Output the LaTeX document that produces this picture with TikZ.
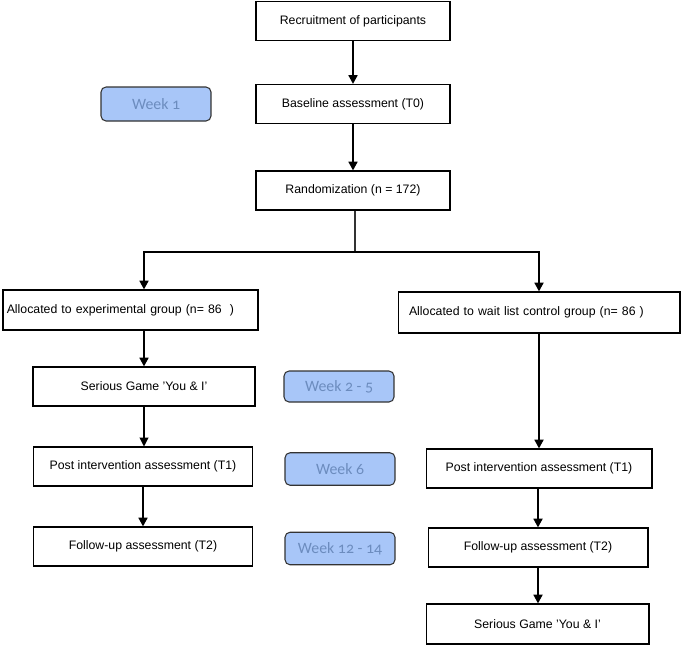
\documentclass[tikz,border=0pt]{standalone}
\usepackage{fontspec}
\setmainfont{Liberation Sans}
\newfontfamily\weekfont[Numbers=OldStyle]{Carlito}
\usetikzlibrary{arrows.meta,positioning}
\definecolor{weekfill}{RGB}{168,198,248}
\definecolor{weektext}{RGB}{108,140,190}
\tikzstyle{boxNode} = [rectangle, draw=black, line width=0.6pt, inner sep=2pt, minimum height=0.78cm, text centered, font=\fontsize{7}{8.5}\selectfont]
\tikzstyle{boxNodeL} = [boxNode, text width=4.9cm, align=left]
\tikzstyle{weekNode} = [rectangle, rounded corners=0.1cm, draw=black!80, line width=0.6pt, fill=weekfill, text=weektext, minimum width=2.2cm, minimum height=0.65cm, font=\weekfont\fontsize{9}{10}\selectfont]
\tikzstyle{arrowT} = [line width=1.3pt,-{Triangle[width=5pt,length=5pt]}]
\tikzstyle{arrowN} = [line width=0.6pt,-{Triangle[width=5pt,length=5pt]}]

\begin{document}
\begin{tikzpicture}[x=0.02cm,y=-0.02cm]
        \useasboundingbox[fill=white] (0,0) rectangle (685,646);
        % main line
        \node (recruit) [boxNode, minimum width=3.88cm] at (353,21) {Recruitment of participants};
        \node (baseline) [boxNode, minimum width=3.88cm] at (353,104) {Baseline assessment (T0)};
        \node (random) [boxNode, minimum width=3.88cm] at (353,190.5) {Randomization (n = 172)};
        \coordinate (split) at (355,252);
        % groups
        \node (allocE) [boxNodeL, minimum width=5.10cm, minimum height=0.80cm, text width=4.95cm] at (130.5,310) {Allocated to experimental group (n= 86 \ )};
        \node (allocC) [boxNodeL, minimum width=5.64cm, minimum height=0.82cm, text width=5.2cm] at (539,312.5) {Allocated to wait list control group (n= 86 )};
        % experimental group
        \node (gameL) [boxNode, minimum width=4.44cm] at (144,386.5) {Serious Game 'You \& I'};
        \node (postL) [boxNode, minimum width=4.38cm] at (143,466.5) {Post intervention assessment (T1)};
        \node (followL) [boxNode, minimum width=4.38cm] at (143,546.5) {Follow-up assessment (T2)};
        % control group
        \node (postR) [boxNode, minimum width=4.52cm] at (539,468.5) {Post intervention assessment (T1)};
        \node (followR) [boxNode, minimum width=4.40cm] at (538,547.5) {Follow-up assessment (T2)};
        \node (gameR) [boxNode, minimum width=4.46cm, minimum height=0.80cm] at (537.5,624) {Serious Game 'You \& I'};
        % weeks
        \node (week1) [weekNode, minimum height=0.68cm] at (156,104) {Week 1};
        \node (week2) [weekNode, minimum height=0.62cm] at (339,386.5) {Week 2 - 5};
        \node (week6) [weekNode] at (340,469) {Week 6};
        \node (week12) [weekNode] at (340,548.5) {Week 12 - 14};

        \draw [arrowT] (recruit) -- (baseline);
        \draw [arrowT] (baseline) -- (random);
        \draw [line width=0.8pt, black!80] (random.south -| split) -- (split);
        \draw [arrowT] (split) -| (allocE.north -| gameL.north);
        \draw [arrowT] (split) -| (allocC.north);
        \draw [arrowT] (allocE.south -| gameL.north) -- (gameL);
        \draw [arrowN] (gameL) -- (gameL |- postL.north);
        \draw [arrowT] (postL) -- (followL);
        \draw [arrowT] (allocC.south -| postR.north) -- (postR);
        \draw [arrowT] (postR.south -| followR.north) -- (followR);
        \draw [arrowT] (followR) -- (followR |- gameR.north);
\end{tikzpicture}
\end{document}
